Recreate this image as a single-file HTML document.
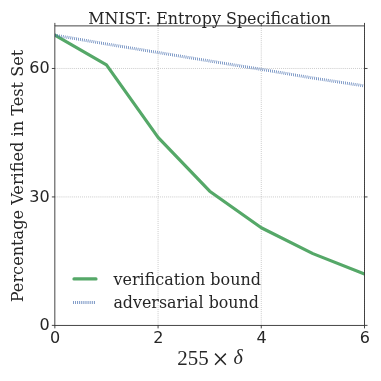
<!DOCTYPE html>
<html><head><meta charset="utf-8"><title>MNIST: Entropy Specification</title>
<style>html,body{margin:0;padding:0;background:#fff;overflow:hidden}svg{display:block;will-change:transform}</style></head>
<body>
<svg width="381" height="381" viewBox="0 0 381 381">
<rect width="381" height="381" fill="#fff"/>
<line x1="158.07" y1="325.38" x2="158.07" y2="25.90" stroke="#a8a8a8" stroke-width="0.75" stroke-dasharray="0.75 1.2"/>
<line x1="261.28" y1="325.38" x2="261.28" y2="25.90" stroke="#a8a8a8" stroke-width="0.75" stroke-dasharray="0.75 1.2"/>
<line x1="364.50" y1="325.38" x2="364.50" y2="25.90" stroke="#a8a8a8" stroke-width="0.75" stroke-dasharray="0.75 1.2"/>
<line x1="54.85" y1="196.93" x2="364.50" y2="196.93" stroke="#a8a8a8" stroke-width="0.75" stroke-dasharray="0.75 1.2"/>
<line x1="54.85" y1="68.48" x2="364.50" y2="68.48" stroke="#a8a8a8" stroke-width="0.75" stroke-dasharray="0.75 1.2"/>
<clipPath id="c"><rect x="54.85" y="25.90" width="309.65" height="299.48"/></clipPath>
<g clip-path="url(#c)" fill="none">
<polyline points="54.85,35.17 106.46,64.88 158.07,137.41 209.67,191.23 261.28,227.80 312.89,253.62 364.50,273.91" stroke="#55a868" stroke-width="3.2" stroke-linejoin="round" stroke-linecap="round"/>
<polyline points="54.85,35.17 106.46,43.99 158.07,52.51 209.67,60.99 261.28,69.33 312.89,78.03 364.50,85.95" stroke="#4c72b0" stroke-width="3.0" stroke-dasharray="0.68 1.266" stroke-dashoffset="-0.3"/>
</g>
<line x1="54.85" y1="325.38" x2="54.85" y2="328.38" stroke="#262626" stroke-width="0.85"/>
<line x1="54.85" y1="25.90" x2="54.85" y2="22.90" stroke="#262626" stroke-width="0.85"/>
<line x1="158.07" y1="325.38" x2="158.07" y2="328.38" stroke="#262626" stroke-width="0.85"/>
<line x1="158.07" y1="25.90" x2="158.07" y2="22.90" stroke="#262626" stroke-width="0.85"/>
<line x1="261.28" y1="325.38" x2="261.28" y2="328.38" stroke="#262626" stroke-width="0.85"/>
<line x1="261.28" y1="25.90" x2="261.28" y2="22.90" stroke="#262626" stroke-width="0.85"/>
<line x1="364.50" y1="325.38" x2="364.50" y2="328.38" stroke="#262626" stroke-width="0.85"/>
<line x1="364.50" y1="25.90" x2="364.50" y2="22.90" stroke="#262626" stroke-width="0.85"/>
<line x1="54.85" y1="325.38" x2="51.85" y2="325.38" stroke="#262626" stroke-width="0.85"/>
<line x1="364.50" y1="325.38" x2="367.50" y2="325.38" stroke="#262626" stroke-width="0.85"/>
<line x1="54.85" y1="196.93" x2="51.85" y2="196.93" stroke="#262626" stroke-width="0.85"/>
<line x1="364.50" y1="196.93" x2="367.50" y2="196.93" stroke="#262626" stroke-width="0.85"/>
<line x1="54.85" y1="68.48" x2="51.85" y2="68.48" stroke="#262626" stroke-width="0.85"/>
<line x1="364.50" y1="68.48" x2="367.50" y2="68.48" stroke="#262626" stroke-width="0.85"/>
<rect x="54.85" y="25.90" width="309.65" height="299.48" fill="none" stroke="#262626" stroke-width="0.85"/>
<g font-family="'DejaVu Sans', 'Liberation Sans', sans-serif" font-size="16" fill="#262626">
<text x="55.15" y="343.2" text-anchor="middle">0</text>
<text x="158.37" y="343.2" text-anchor="middle">2</text>
<text x="261.58" y="343.2" text-anchor="middle">4</text>
<text x="364.80" y="343.2" text-anchor="middle">6</text>
<text x="49.6" y="330.08" text-anchor="end">0</text>
<text x="49.6" y="201.63" text-anchor="end">30</text>
<text x="49.6" y="73.18" text-anchor="end">60</text>
</g>
<g font-family="'DejaVu Serif', 'Liberation Serif', serif" font-size="16" fill="#262626">
<text x="209.6" y="24.2" text-anchor="middle" textLength="242.8" lengthAdjust="spacingAndGlyphs">MNIST: Entropy Specification</text>
<text transform="translate(23.45 176.05) rotate(-90)" text-anchor="middle" textLength="252.5" lengthAdjust="spacingAndGlyphs">Percentage Verified in Test Set</text>
<text x="113.5" y="284.8" textLength="147.5" lengthAdjust="spacingAndGlyphs">verification bound</text>
<text x="113.4" y="307.5" textLength="145.5" lengthAdjust="spacingAndGlyphs">adversarial bound</text>
</g>
<line x1="74" y1="278.9" x2="96" y2="278.9" stroke="#55a868" stroke-width="3.2" stroke-linecap="round"/>
<line x1="73.2" y1="302.5" x2="96.2" y2="302.5" stroke="#4c72b0" stroke-width="3.0" stroke-dasharray="0.68 1.24"/>
<g font-family="'Liberation Serif', serif" font-size="20" fill="#262626">
<text x="177.3" y="364.6" textLength="31.4" lengthAdjust="spacingAndGlyphs">255</text>
<text x="220.4" y="368.5" text-anchor="middle" font-size="29">×</text>
<text x="233.5" y="364.4" font-style="italic">δ</text>
</g>
</svg>
</body></html>
